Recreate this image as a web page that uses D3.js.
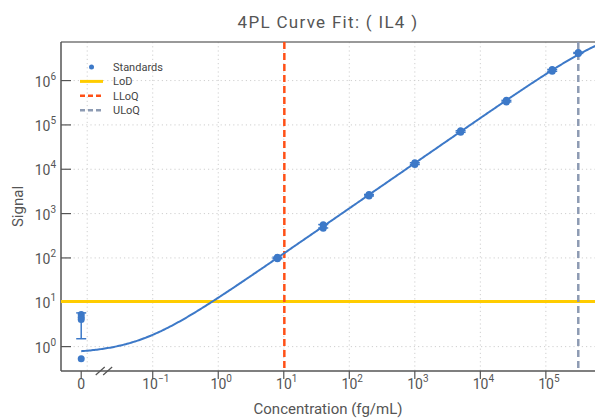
<!DOCTYPE html>
<html>
<head>
<meta charset="utf-8">
<script src="https://cdn.jsdelivr.net/npm/d3@7"></script>
<style>
  body { margin: 0; background: #fff; }
  text { font-family: Roboto, "Noto Sans", sans-serif; }
</style>
</head>
<body>
<div id="chart"></div>
<script>
// standards: concentration (fg/mL) and replicate signals
const concentrations = [0, 8, 40, 200, 1000, 5000, 25000, 125000, 312500];
const replicates = [
  [5.3, 4.6, 4.1, 0.53],
  [96, 104, 100],
  [470, 560, 530],
  [2500, 2700, 2600],
  [12800, 14000, 13400],
  [68000, 74000, 71000],
  [330000, 358000, 344000],
  [1620000, 1780000, 1700000],
  [4100000, 4300000, 4200000]
];

// 4PL fit parameters: y = d + (a - d) / (1 + (x / c)^b)
const fitA = 0.7, fitB = 1.02, fitC = 1.2e6, fitD = 1.9e7;

const lod = 10.4;
const lloq = 10.2;
const uloq = 312500;

const xTicks = [0.1, 1, 10, 100, 1000, 10000, 100000];
const xGrid = [0.01, 0.1, 1, 10, 100, 1000, 10000, 100000];
const yTicks = [1, 10, 100, 1000, 10000, 100000, 1000000];
const zeroAt = 0.0081; // where the blank (0) is drawn on the log axis

const legendItems = ['Standards', 'LoD', 'LLoQ', 'ULoQ'];

const W = 595, H = 420;
const margin = { top: 42, right: 0, bottom: 49, left: 61 };
const width = W - margin.left - margin.right;
const height = H - margin.top - margin.bottom;

const blue = '#3d79c8';
const grey = '#555';

const svg = d3.select('#chart').append('svg')
  .attr('width', W)
  .attr('height', H);

const x = d3.scaleLog()
  .domain([Math.pow(10, -2.40), Math.pow(10, 5.75)])
  .range([margin.left, W - margin.right]);

const y = d3.scaleLog()
  .domain([Math.pow(10, -0.55), Math.pow(10, 6.87)])
  .range([H - margin.bottom, margin.top]);

const xPos = c => x(c === 0 ? zeroAt : c);

svg.append('defs').append('clipPath').attr('id', 'clip')
  .append('rect')
  .attr('x', margin.left).attr('y', margin.top)
  .attr('width', width).attr('height', height);

// grid
const grid = svg.append('g')
  .attr('stroke', '#cfcfcf')
  .attr('stroke-width', 1)
  .attr('stroke-dasharray', '1.2,3');

grid.selectAll('.gx').data(xGrid).enter().append('line')
  .attr('x1', d => x(d)).attr('x2', d => x(d))
  .attr('y1', margin.top).attr('y2', H - margin.bottom);

grid.selectAll('.gy').data(yTicks).enter().append('line')
  .attr('x1', margin.left).attr('x2', W - margin.right)
  .attr('y1', d => y(d)).attr('y2', d => y(d));

// frame / axes lines
svg.append('line')
  .attr('x1', margin.left).attr('x2', W)
  .attr('y1', margin.top).attr('y2', margin.top)
  .attr('stroke', '#777').attr('stroke-width', 1.5);

svg.append('line')
  .attr('x1', margin.left).attr('x2', margin.left)
  .attr('y1', margin.top).attr('y2', H - margin.bottom)
  .attr('stroke', grey).attr('stroke-width', 1.5);

svg.append('line')
  .attr('x1', margin.left).attr('x2', W)
  .attr('y1', H - margin.bottom).attr('y2', H - margin.bottom)
  .attr('stroke', grey).attr('stroke-width', 1.5);

// y ticks (inward) and labels
svg.selectAll('.yt').data(yTicks).enter().append('line')
  .attr('x1', margin.left).attr('x2', margin.left + 10)
  .attr('y1', d => y(d)).attr('y2', d => y(d))
  .attr('stroke', grey).attr('stroke-width', 1.2);

const powLabel = (sel, d) => {
  const e = Math.round(Math.log10(d));
  sel.append('tspan').text('10');
  sel.append('tspan').attr('dy', -7).attr('font-size', 10).text(e < 0 ? '\u2212' + (-e) : e);
};

svg.selectAll('.yl').data(yTicks).enter().append('text')
  .attr('x', margin.left - 5)
  .attr('y', d => y(d) + 6)
  .attr('text-anchor', 'end')
  .attr('font-size', 14)
  .attr('fill', grey)
  .each(function (d) { powLabel(d3.select(this), d); });

// x ticks (outward) and labels
const xTickVals = [0].concat(xTicks);
svg.selectAll('.xt').data(xTickVals).enter().append('line')
  .attr('x1', d => xPos(d)).attr('x2', d => xPos(d))
  .attr('y1', H - margin.bottom).attr('y2', H - margin.bottom + 8)
  .attr('stroke', grey).attr('stroke-width', 1.2);

svg.selectAll('.xl').data(xTickVals).enter().append('text')
  .attr('x', d => xPos(d) + (d === 0 ? 0 : 3))
  .attr('y', H - margin.bottom + 18)
  .attr('text-anchor', 'middle')
  .attr('font-size', 14)
  .attr('fill', grey)
  .each(function (d) {
    if (d === 0) d3.select(this).text('0');
    else powLabel(d3.select(this), d);
  });

// axis break marks between 0 and the log part
const brk = svg.append('g').attr('stroke', grey).attr('stroke-width', 1.2);
[x(0.0158), x(0.0205)].forEach(cx => {
  brk.append('line')
    .attr('x1', cx - 4.5).attr('x2', cx + 4.5)
    .attr('y1', H - margin.bottom + 4).attr('y2', H - margin.bottom - 4);
});

// axis titles
svg.append('text')
  .attr('x', (margin.left + W) / 2)
  .attr('y', H - 6)
  .attr('text-anchor', 'middle')
  .attr('font-size', 15)
  .attr('fill', grey)
  .text('Concentration (fg/mL)');

svg.append('text')
  .attr('transform', `translate(23,${(margin.top + H - margin.bottom) / 2}) rotate(-90)`)
  .attr('text-anchor', 'middle')
  .attr('font-size', 15)
  .attr('fill', grey)
  .text('Signal');

// title
svg.append('text')
  .attr('x', (margin.left + W) / 2)
  .attr('y', 28)
  .attr('text-anchor', 'middle')
  .attr('font-family', '"Open Sans", sans-serif')
  .attr('font-size', 17)
  .attr('letter-spacing', 1.3)
  .attr('fill', grey)
  .text('4PL Curve Fit: ( IL4 )');

const plot = svg.append('g').attr('clip-path', 'url(#clip)');

// LoD / LLoQ / ULoQ
plot.append('line')
  .attr('x1', margin.left).attr('x2', W)
  .attr('y1', y(lod)).attr('y2', y(lod))
  .attr('stroke', '#ffcc00').attr('stroke-width', 3);

plot.append('line')
  .attr('x1', x(lloq)).attr('x2', x(lloq))
  .attr('y1', margin.top).attr('y2', H - margin.bottom)
  .attr('stroke', '#ff5017').attr('stroke-width', 2.5)
  .attr('stroke-dasharray', '7,4');

plot.append('line')
  .attr('x1', x(uloq)).attr('x2', x(uloq))
  .attr('y1', margin.top).attr('y2', H - margin.bottom)
  .attr('stroke', '#8d9bb3').attr('stroke-width', 2.5)
  .attr('stroke-dasharray', '7,4');

// fitted curve
const fit = c => fitD + (fitA - fitD) / (1 + Math.pow(c / fitC, fitB));
const logs = d3.range(Math.log10(zeroAt), 5.8, 0.02);
const curveData = logs.map(l => Math.pow(10, l));
plot.append('path')
  .datum(curveData)
  .attr('fill', 'none')
  .attr('stroke', blue)
  .attr('stroke-width', 2)
  .attr('d', d3.line().x(d => x(d)).y(d => y(fit(d))));

// standards: error bars and replicate points
const stats = concentrations.map((c, i) => ({
  c,
  mean: d3.mean(replicates[i]),
  sd: d3.deviation(replicates[i]),
  reps: replicates[i]
}));

const eb = plot.append('g').attr('stroke', blue).attr('stroke-width', 1.5);
stats.forEach(s => {
  const cx = xPos(s.c);
  const lo = s.mean - s.sd, hi = s.mean + s.sd;
  eb.append('line').attr('x1', cx).attr('x2', cx).attr('y1', y(lo)).attr('y2', y(hi));
  eb.append('line').attr('x1', cx - 5).attr('x2', cx + 5).attr('y1', y(lo)).attr('y2', y(lo));
  eb.append('line').attr('x1', cx - 5).attr('x2', cx + 5).attr('y1', y(hi)).attr('y2', y(hi));
});

plot.selectAll('.pt')
  .data(stats.flatMap(s => s.reps.map(v => ({ c: s.c, v }))))
  .enter().append('circle')
  .attr('cx', d => xPos(d.c))
  .attr('cy', d => y(d.v))
  .attr('r', 3.5)
  .attr('fill', blue);

// legend
const lg = svg.append('g').attr('transform', 'translate(80,67)');
legendItems.forEach((name, i) => {
  const row = lg.append('g').attr('transform', `translate(0,${i * 14.4})`);
  if (name === 'Standards') {
    row.append('circle').attr('cx', 11.5).attr('cy', 0).attr('r', 2.5).attr('fill', blue);
  } else {
    const col = name === 'LoD' ? '#ffcc00' : name === 'LLoQ' ? '#ff5017' : '#8d9bb3';
    row.append('line')
      .attr('x1', 0).attr('x2', 23).attr('y1', 0).attr('y2', 0)
      .attr('stroke', col).attr('stroke-width', name === 'LoD' ? 3 : 2.5)
      .attr('stroke-dasharray', name === 'LoD' ? null : '5,3');
  }
  row.append('text')
    .attr('x', 33).attr('y', 4)
    .attr('font-size', 11)
    .attr('fill', '#444')
    .text(name);
});
</script>
</body>
</html>
